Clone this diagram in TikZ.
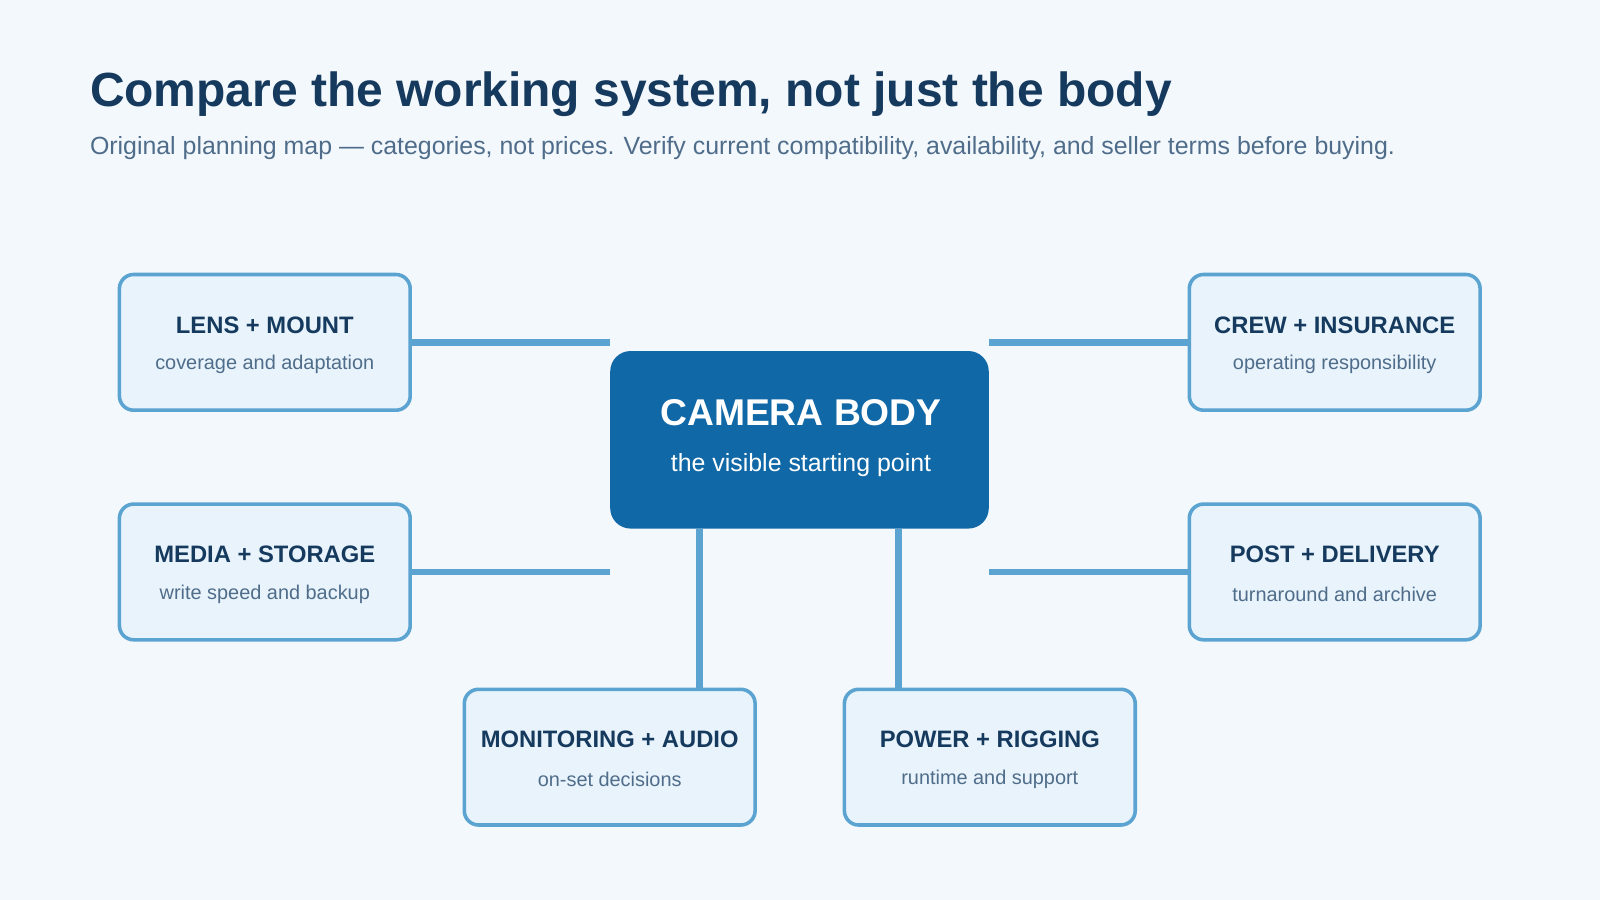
\documentclass[tikz,border=0pt]{standalone}
\usepackage{fontspec}
\setmainfont{Liberation Sans}
\usetikzlibrary{calc}
\definecolor{bg}{HTML}{F3F8FC}
\definecolor{edge}{HTML}{5BA3D0}
\definecolor{boxfill}{HTML}{E8F3FB}
\definecolor{navy}{HTML}{153A5E}
\definecolor{subc}{HTML}{4F6D8A}
\definecolor{core}{HTML}{1068A6}
\begin{document}
\begin{tikzpicture}[x=1pt,y=-1pt,
  box/.style={draw=edge,line width=3.5pt,fill=boxfill,rounded corners=14pt,minimum width=285pt,minimum height=133pt,align=center,inner sep=0pt},
  link/.style={draw=edge,line width=6.5pt},
  bt/.style={font=\fontsize{23.3}{27}\selectfont\bfseries,text=navy},
  st/.style={font=\fontsize{19.5}{23}\selectfont,text=subc}]
\fill[bg] (0,0) rectangle (1568,882);
\useasboundingbox (0,0) rectangle (1568,882);
\node[anchor=base west,text=navy,font=\fontsize{47}{52}\selectfont\bfseries,inner sep=0pt] (title) at (88,104) {Compare the working system, not just the body};
\node[anchor=base west,text=subc,font=\fontsize{24.4}{28}\selectfont,inner sep=0pt] (sub) at (88,151) {Original planning map — categories, not prices. Verify current compatibility, availability, and seller terms before buying.};
\node[fill=core,rounded corners=20pt,minimum width=371pt,minimum height=174pt,inner sep=0pt] (center) at (783.5,431) {};
\node[text=white,font=\fontsize{36.5}{42}\selectfont\bfseries] (ct) at (785,404) {CAMERA BODY};
\node[text=white,font=\fontsize{24.4}{28}\selectfont] (cs) at (785,456) {the visible starting point};
\newcommand{\mybox}[5]{%
  \node[box] (#1) at (#2,#3) {};
  \node[bt] (#1t) at ($(#1)+(0,-17)$) {#4};
  \node[st] (#1s) at ($(#1)+(0,22)$) {#5};}
\mybox{lens}{259.5}{335.5}{LENS + MOUNT}{coverage and adaptation}
\mybox{crew}{1308}{335.5}{CREW + INSURANCE}{operating responsibility}
\mybox{media}{259.5}{560.5}{MEDIA + STORAGE}{write speed and backup}
\mybox{post}{1308}{560.5}{POST + DELIVERY}{turnaround and archive}
\mybox{mon}{597.5}{742}{MONITORING + AUDIO}{on-set decisions}
\mybox{pow}{970}{742}{POWER + RIGGING}{runtime and support}
\draw[link] (lens.east) -- (lens.east -| center.west);
\draw[link] (media.east) -- (media.east -| center.west);
\draw[link] (crew.west) -- (crew.west -| center.east);
\draw[link] (post.west) -- (post.west -| center.east);
\coordinate (v1) at ($(center.south west)+(88,0)$);
\coordinate (v2) at ($(center.south west)+(283,0)$);
\draw[link] (v1) -- (v1 |- mon.north);
\draw[link] (v2) -- (v2 |- pow.north);
\end{tikzpicture}
\end{document}
